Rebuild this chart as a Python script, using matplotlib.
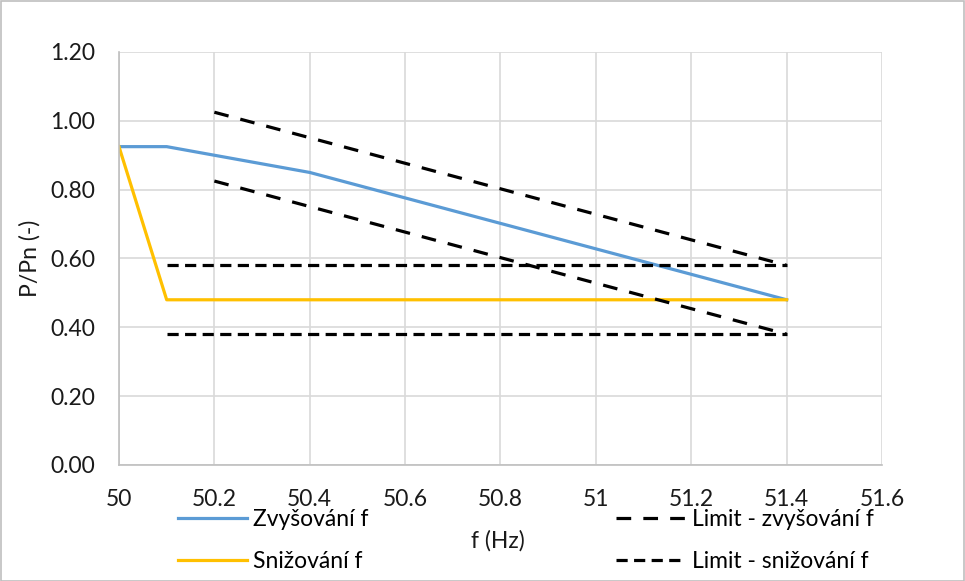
import matplotlib.pyplot as plt
from matplotlib.patches import Rectangle

plt.rcParams['font.family'] = ['Lato', 'DejaVu Sans']

# frekvence (Hz) a výkon P/Pn
f_zvys = [50.0, 50.1, 50.4, 51.4]
p_zvys = [0.925, 0.925, 0.85, 0.48]

f_sniz = [50.0, 50.1, 51.4]
p_sniz = [0.925, 0.48, 0.48]

f_lim_zvys_h = [50.2, 51.4]
p_lim_zvys_h = [1.025, 0.58]
f_lim_zvys_d = [50.2, 51.4]
p_lim_zvys_d = [0.825, 0.38]

f_lim_sniz_h = [50.1, 51.4]
p_lim_sniz_h = [0.58, 0.58]
f_lim_sniz_d = [50.1, 51.4]
p_lim_sniz_d = [0.38, 0.38]

xticks = [50, 50.2, 50.4, 50.6, 50.8, 51, 51.2, 51.4, 51.6]
xtick_labels = ["50", "50.2", "50.4", "50.6", "50.8", "51", "51.2", "51.4", "51.6"]
yticks = [0, 0.2, 0.4, 0.6, 0.8, 1.0, 1.2]

fs = 16.5
txt = "#1a1a1a"

fig = plt.figure(figsize=(9.65, 5.81), dpi=100)
ax = fig.add_axes([0.1233, 0.1997, 0.7907, 0.7108])

l1, = ax.plot(f_zvys, p_zvys, color="#5B9BD5", lw=2.3, label="Zvyšování f")
l2, = ax.plot(f_sniz, p_sniz, color="#FFC000", lw=2.3, label="Snižování f")
l3, = ax.plot(f_lim_zvys_h, p_lim_zvys_h, color="black", lw=2.3,
              dashes=(4.6, 3.8), label="Limit - zvyšování f")
ax.plot(f_lim_zvys_d, p_lim_zvys_d, color="black", lw=2.3, dashes=(4.6, 3.8))
l4, = ax.plot(f_lim_sniz_h, p_lim_sniz_h, color="black", lw=2.3,
              dashes=(3.5, 2.0), label="Limit - snižování f")
ax.plot(f_lim_sniz_d, p_lim_sniz_d, color="black", lw=2.3, dashes=(3.5, 2.0))

ax.set_xlim(50, 51.6)
ax.set_ylim(0, 1.2)
ax.set_xticks(xticks)
ax.set_xticklabels(xtick_labels)
ax.set_yticks(yticks)
ax.set_yticklabels(["%.2f" % v for v in yticks])
ax.grid(True, color="#d9d9d9", lw=1.2)
ax.set_axisbelow(True)
ax.tick_params(length=0, labelsize=fs, colors=txt)
ax.tick_params(axis="y", pad=17)
ax.tick_params(axis="x", pad=17)
for s in ["top", "right"]:
    ax.spines[s].set_visible(False)
for s in ["left", "bottom"]:
    ax.spines[s].set_color("#bfbfbf")
    ax.spines[s].set_linewidth(1.2)

fig.text(0.031, 0.556, "P/Pn (-)", fontsize=fs, color=txt, rotation=90,
         ha="center", va="center")
fig.text(0.516, 0.07, "f (Hz)", fontsize=fs, color=txt, ha="center", va="center")

fig.legend(handles=[l1, l2, l3, l4], ncol=2, loc="center left",
           bbox_to_anchor=(0.184, 0.0697), bbox_transform=fig.transFigure,
           frameon=False, fontsize=fs, handlelength=3.05, handletextpad=0.26,
           columnspacing=10.8, labelspacing=0.9, borderaxespad=0, borderpad=0)

fig.patches.append(Rectangle((0.0008, 0.0008), 0.998, 0.998, transform=fig.transFigure,
                             fill=False, edgecolor="#bfbfbf", lw=1.2))

fig.savefig("out.png", dpi=100)
